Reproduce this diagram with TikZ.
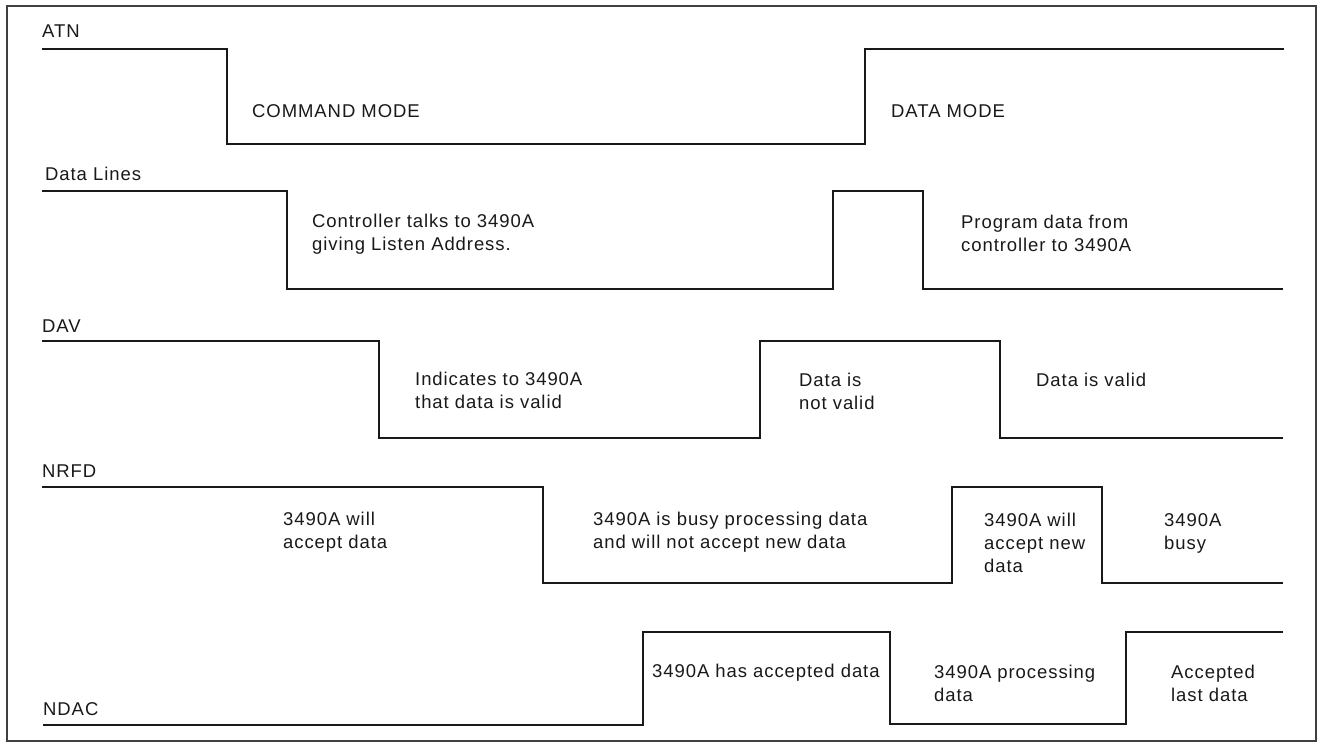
\documentclass[tikz,border=0pt]{standalone}
\usepackage{fontspec}
\setmainfont{Liberation Sans}[LetterSpace=5]
\begin{document}
\begin{tikzpicture}[x=1pt,y=-1pt,
  sig/.style={line width=1.8pt, line join=miter, draw=black!90},
  lbl/.style={anchor=base west, inner sep=0pt, font=\fontsize{18.5}{23}\selectfont, align=left, text=black!90}]
\useasboundingbox (0,0) rectangle (1321,748);
\draw[line width=1.4pt, draw=black!75] (7,6) rectangle (1316,741);
% signal labels
\node[lbl] (atn) at (42,37) {ATN};
\node[lbl] (dl) at (45,180) {Data Lines};
\node[lbl] (dav) at (42,332) {DAV};
\node[lbl] (nrfd) at (42,477) {NRFD};
\node[lbl] (ndac) at (43,715) {NDAC};
% waveforms
\draw[sig] (42,49) -- (227,49) -- (227,144) -- (865,144) -- (865,49) -- (1284,49);
\draw[sig] (42,191) -- (287,191) -- (287,289) -- (833,289) -- (833,191) -- (923,191) -- (923,289) -- (1283,289);
\draw[sig] (42,341) -- (379,341) -- (379,438) -- (760,438) -- (760,341) -- (1000,341) -- (1000,438) -- (1283,438);
\draw[sig] (42,487) -- (543,487) -- (543,583) -- (952,583) -- (952,487) -- (1102,487) -- (1102,583) -- (1283,583);
\draw[sig] (43,725) -- (643,725) -- (643,632) -- (890,632) -- (890,724) -- (1126,724) -- (1126,632) -- (1283,632);
% annotations (anchor at baseline of last line)
\node[lbl] (cmd) at (252,117) {COMMAND MODE};
\node[lbl] (dmode) at (891,117) {DATA MODE};
\node[lbl] (ctl) at (312,250) {Controller talks to 3490A\\giving Listen Address.};
\node[lbl] (prog) at (961,251) {Program data from\\controller to 3490A};
\node[lbl] (ind) at (415,408) {Indicates to 3490A\\that data is valid};
\node[lbl] (notv) at (799,409) {Data is\\not valid};
\node[lbl] (valid) at (1036,386) {Data is valid};
\node[lbl] (will) at (283,548) {3490A will\\accept data};
\node[lbl] (busyp) at (593,548) {3490A is busy processing data\\and will not accept new data};
\node[lbl] (willnew) at (984,572) {3490A will\\accept new\\data};
\node[lbl] (busy) at (1164,549) {3490A\\busy};
\node[lbl] (acc) at (652,677) {3490A has accepted data};
\node[lbl] (proc) at (934,701) {3490A processing\\data};
\node[lbl] (last) at (1171,701) {Accepted\\last data};
\end{tikzpicture}
\end{document}
